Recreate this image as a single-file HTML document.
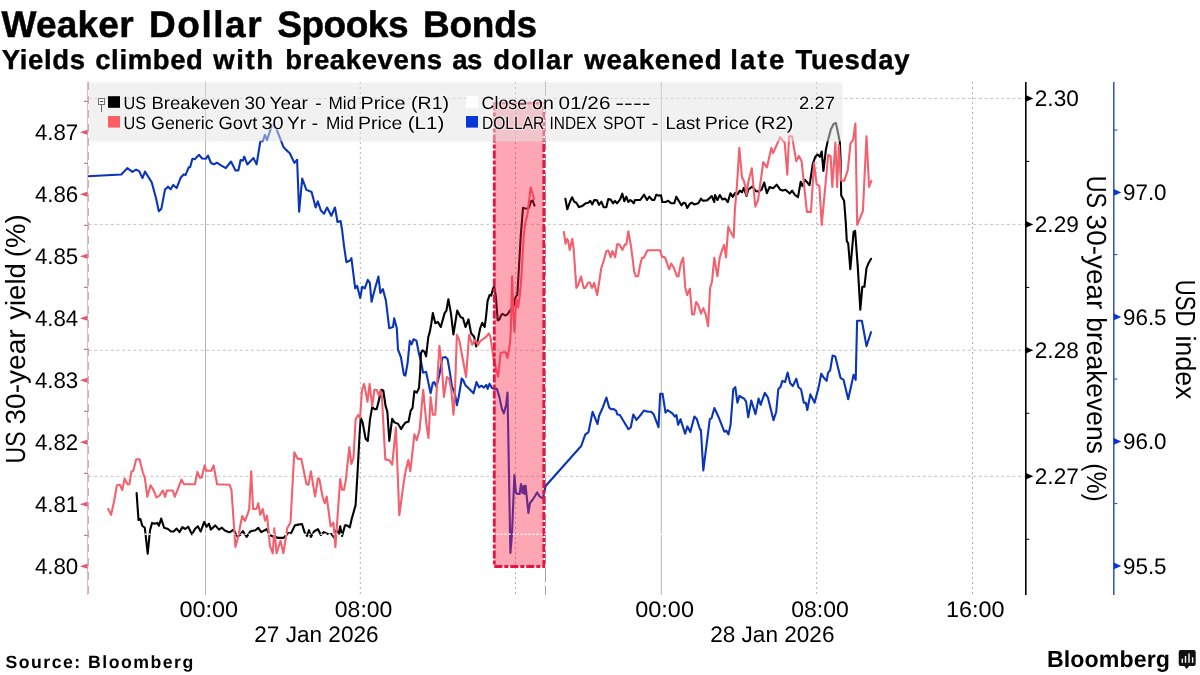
<!DOCTYPE html>
<html><head><meta charset="utf-8"><title>Weaker Dollar Spooks Bonds</title>
<style>
html,body{margin:0;padding:0;background:#fff;}
body{width:1200px;height:675px;overflow:hidden;}
svg{display:block;font-family:'Liberation Sans', sans-serif;}
svg{will-change:transform;text-rendering:geometricPrecision;}
</style></head><body>
<svg width="1200" height="675" viewBox="0 0 1200 675">
<rect width="1200" height="675" fill="#fff"/>

<line x1="88.5" y1="98.4" x2="1025.8" y2="98.4" stroke="#c4c4c4" stroke-width="1" stroke-dasharray="3,2.6"/>
<line x1="88.5" y1="224.4" x2="1025.8" y2="224.4" stroke="#c4c4c4" stroke-width="1" stroke-dasharray="3,2.6"/>
<line x1="88.5" y1="350.3" x2="1025.8" y2="350.3" stroke="#c4c4c4" stroke-width="1" stroke-dasharray="3,2.6"/>
<line x1="88.5" y1="476.3" x2="1025.8" y2="476.3" stroke="#c4c4c4" stroke-width="1" stroke-dasharray="3,2.6"/>
<line x1="205.5" y1="82" x2="205.5" y2="595" stroke="#b4b4b4" stroke-width="1"/>
<line x1="360.3" y1="82" x2="360.3" y2="595" stroke="#b0b0b0" stroke-width="1" stroke-dasharray="2,3"/>
<line x1="515.5" y1="82" x2="515.5" y2="595" stroke="#b0b0b0" stroke-width="1" stroke-dasharray="2,3"/>
<line x1="545.5" y1="82" x2="545.5" y2="595" stroke="#a0a0a0" stroke-width="1" stroke-dasharray="14,4"/>
<line x1="661.3" y1="82" x2="661.3" y2="595" stroke="#b4b4b4" stroke-width="1"/>
<line x1="816.7" y1="82" x2="816.7" y2="595" stroke="#b0b0b0" stroke-width="1" stroke-dasharray="2,3"/>
<line x1="972.5" y1="82" x2="972.5" y2="595" stroke="#b0b0b0" stroke-width="1" stroke-dasharray="2,3"/>
<g fill="none" stroke-width="2.1" stroke-linejoin="round" stroke-linecap="round">
<polyline points="88.0,176.3 121.3,174.5 127.3,168.1 132.4,171.9 136.1,169.6 139.1,171.1 142.5,178.1 145.0,171.6 151.7,182.2 156.1,198.5 158.8,211.1 161.3,208.9 165.0,189.6 168.0,186.7 170.7,189.3 173.2,184.9 176.6,188.1 180.6,177.8 183.6,174.5 185.5,175.1 188.7,167.4 190.2,167.1 192.4,158.8 194.7,159.3 199.1,154.8 202.1,158.5 205.8,158.8 208.0,155.6 211.0,163.0 213.9,164.4 216.9,162.7 220.6,165.2 225.8,168.1 231.0,161.5 235.4,170.4 238.4,170.4 240.6,160.0 242.8,160.7 244.3,156.7 247.3,164.4 253.5,158.1 256.6,164.4 260.3,141.5 262.8,141.1 264.9,134.9 267.0,140.1 272.2,124.5 276.3,128.7 283.6,147.3 285.6,149.4 289.8,153.2 294.4,162.9 297.1,159.8 299.1,211.7 302.2,178.5 306.4,189.9 311.6,192.0 315.7,207.5 317.8,201.3 320.9,210.6 324.0,213.7 327.1,207.5 331.3,215.8 335.0,207.5 337.5,222.0 340.6,221.0 342.1,230.0 343.9,245.1 346.4,262.2 350.2,260.2 351.4,258.2 355.2,288.4 357.2,285.9 360.2,298.0 362.2,286.7 364.8,288.4 367.8,279.9 369.8,282.9 371.6,301.8 374.8,289.2 378.4,276.6 380.4,293.0 382.9,289.2 385.9,300.5 389.2,328.2 393.0,327.0 394.2,318.2 396.8,328.2 398.0,349.6 400.9,357.0 403.9,374.8 405.4,375.6 407.6,363.0 409.8,340.7 411.6,344.4 413.5,339.3 416.5,340.7 418.7,352.6 420.9,360.7 423.1,372.6 426.1,371.9 430.6,393.3 432.8,383.0 434.3,382.2 436.5,386.7 439.4,374.8 442.4,357.8 445.4,357.0 447.6,359.3 449.8,371.9 452.0,386.7 455.0,394.1 456.9,405.2 458.7,397.0 461.7,378.5 463.1,380.0 465.4,385.2 468.3,388.1 471.3,391.1 473.5,393.3 476.5,382.1 479.0,387.3 481.4,385.7 483.9,387.6 486.3,384.9 487.6,388.9 489.6,383.7 492.0,388.1 494.5,388.9 496.9,388.9 499.4,397.1 501.8,408.5 503.8,413.4 506.2,404.4 507.5,392.5 510.4,553.0 512.0,534.0 514.4,475.0 516.0,493.0 518.0,494.0 519.6,494.0 521.0,484.0 522.4,493.0 523.6,486.0 524.4,494.0 525.6,485.6 528.4,513.0 530.0,503.0 532.4,500.0 535.0,496.0 537.0,492.4 540.0,497.0 543.0,498.0 545.6,486.0 581.2,446.0 585.2,434.6 588.5,432.1 592.6,411.8 597.5,424.0 599.1,415.8 602.7,407.7 606.4,397.6 609.2,407.7 611.3,409.3 613.7,409.0 616.2,410.9 617.3,414.5 619.9,415.0 628.4,429.2 630.8,427.2 633.3,414.5 636.5,419.9 640.6,415.0 643.9,410.6 648.0,411.8 651.2,411.8 653.6,414.2 658.5,427.2 660.2,393.8 662.6,393.8 665.5,412.6 667.5,410.1 672.4,413.4 674.8,416.6 676.4,415.0 678.1,424.8 680.5,419.1 685.1,433.7 687.4,426.4 690.3,432.1 694.4,416.6 696.8,419.1 700.1,429.7 700.9,429.7 703.3,470.4 709.8,419.1 711.5,418.3 714.4,408.0 719.1,418.3 724.3,431.7 726.4,430.7 728.5,434.4 730.6,424.5 733.3,389.2 735.3,387.1 737.4,402.7 739.5,395.9 742.0,397.5 744.0,398.5 746.1,401.7 748.2,417.2 751.3,400.6 755.5,414.1 758.6,398.5 760.6,404.8 764.8,392.9 767.9,397.5 773.5,420.3 776.2,412.0 778.3,389.2 780.4,387.1 782.4,380.9 785.1,382.0 787.6,372.6 790.1,383.0 792.8,386.1 796.3,378.8 798.4,387.1 801.1,389.6 803.8,402.7 805.9,402.7 807.3,410.0 810.4,394.4 814.6,402.7 818.7,387.1 821.2,373.7 823.9,377.8 826.6,380.9 828.1,372.6 830.1,370.5 832.6,355.6 835.3,356.4 840.5,377.8 843.6,379.9 848.2,399.2 853.6,374.7 855.7,379.9 857.1,320.7 861.9,320.7 866.5,346.1 871.0,332.2" stroke="#0a35b8"/>
<polyline points="136.6,493.0 138.5,520.0 140.4,519.0 142.3,525.7 144.8,527.7 147.7,553.7 150.0,530.6 152.0,522.9 154.5,523.8 157.4,522.9 158.9,525.7 161.2,518.6 164.1,527.7 168.0,529.0 170.9,531.5 173.7,531.5 176.6,528.6 179.5,532.1 182.4,527.1 185.3,529.0 188.2,526.7 192.0,534.4 194.9,529.0 197.8,526.3 200.7,531.5 204.2,521.9 206.5,526.7 209.0,523.8 210.9,529.6 215.2,525.4 219.0,529.6 221.9,527.7 224.8,530.6 229.6,532.5 233.5,529.6 237.3,536.3 240.0,535.0 242.9,531.2 246.7,536.9 250.6,531.2 255.4,530.2 258.3,527.9 261.2,532.1 266.6,529.2 269.9,535.0 273.7,536.9 278.5,537.9 283.4,537.9 288.2,533.1 291.1,533.1 294.9,525.4 299.7,524.4 302.0,524.0 304.5,532.1 307.1,536.0 309.0,530.2 310.9,536.9 314.2,531.2 318.0,529.2 320.9,535.0 323.8,532.1 327.7,534.0 331.5,534.0 334.4,537.9 336.3,530.2 338.7,534.0 340.2,526.3 342.1,536.0 345.0,525.4 346.9,525.4 349.8,527.3 351.8,518.6 355.6,505.1 357.4,475.0 359.6,434.3 360.7,418.0 362.6,422.4 365.6,438.7 367.8,440.9 370.0,419.4 372.2,406.9 374.4,409.1 376.7,409.1 378.9,400.2 381.1,389.8 383.3,390.6 385.6,406.1 387.3,411.3 389.3,440.9 392.2,418.7 394.4,422.4 398.1,423.9 401.1,429.1 403.3,425.4 405.6,422.4 408.5,421.7 410.7,410.6 412.5,408.2 414.4,391.0 416.8,392.6 419.0,388.0 420.2,371.9 420.9,353.3 422.4,350.4 424.6,351.9 426.1,356.3 428.3,337.0 429.8,331.9 431.3,323.7 432.8,313.1 435.3,323.2 437.8,321.9 440.8,327.0 444.6,313.1 446.4,310.6 448.4,299.3 450.9,313.1 453.4,334.5 457.2,310.6 460.5,316.9 463.0,318.2 465.5,327.0 468.5,319.4 471.1,333.3 474.1,336.7 476.2,346.5 478.2,338.3 480.1,328.5 482.2,322.8 484.7,326.9 486.0,317.1 487.6,300.8 489.6,295.1 491.2,295.6 492.8,289.4 494.1,286.1 495.8,295.9 497.7,320.4 499.4,319.5 501.0,315.5 502.6,313.8 505.1,315.5 507.2,314.6 510.0,310.6 513.2,307.3 515.7,296.7 517.3,295.1 518.9,268.2 520.7,236.7 523.0,207.8 524.4,208.2 527.4,208.8 528.9,207.8 531.1,201.1 532.6,200.4 534.5,205.6" stroke="#000"/>
<polyline points="565.4,198.7 567.3,209.3 569.9,202.0 572.1,197.3 574.3,201.7 576.3,202.7 579.0,207.1 581.7,206.3 585.7,203.3 588.3,202.7 590.3,200.9 592.3,204.4 594.3,200.0 597.0,200.4 599.0,204.9 601.4,201.7 603.7,207.3 606.3,207.3 608.3,199.1 610.7,199.6 613.0,203.3 615.0,200.9 617.0,203.3 620.1,199.3 622.3,193.7 624.3,201.3 626.3,196.7 628.3,202.0 630.3,200.0 632.1,201.3 633.7,203.3 635.0,200.0 640.3,200.0 644.1,194.7 647.0,200.0 649.4,196.7 652.3,200.0 654.3,200.0 656.3,194.7 658.3,195.6 661.0,195.3 662.3,202.0 665.7,202.0 668.1,200.7 671.0,203.1 674.3,203.3 676.3,196.7 679.0,201.3 681.4,205.3 683.7,202.7 685.4,203.3 687.3,208.0 689.7,204.0 691.7,202.7 694.3,204.4 698.3,203.3 701.0,198.7 703.0,200.7 707.0,200.4 709.7,198.0 711.7,196.0 714.3,202.0 715.0,195.0 717.5,200.0 719.8,195.0 722.4,199.5 725.1,198.6 727.8,202.1 730.4,193.2 732.8,196.8 735.2,192.9 737.6,194.1 739.9,190.6 742.0,192.3 743.8,187.9 746.5,195.9 748.2,189.7 752.3,186.5 755.9,191.1 758.9,191.5 761.6,189.7 764.2,182.6 766.9,193.2 769.6,187.0 773.1,188.3 776.7,184.7 780.2,189.7 782.9,190.6 785.6,189.7 789.7,193.6 792.1,190.6 795.0,195.0 798.0,197.1 800.7,181.7 802.5,186.1 805.1,179.9 809.6,185.2 812.8,163.9 815.3,156.8 817.6,154.5 819.9,156.8 821.7,151.5 823.4,171.0 825.9,149.7 827.4,142.6 830.9,129.2 833.6,123.9 835.9,123.0 838.0,132.8 839.8,141.7 840.6,160.0 841.2,195.6 844.1,200.7 845.7,221.5 846.8,241.2 848.2,243.3 850.3,269.2 853.6,231.9 855.1,230.8 857.8,267.1 860.3,309.7 862.3,286.8 864.4,286.8 866.5,268.2 868.6,263.0 871.1,258.8" stroke="#000"/>
<polyline points="108.2,509.0 111.1,514.8 114.0,501.7 116.9,485.3 119.8,484.7 122.3,490.1 124.6,478.5 127.5,484.3 129.4,484.3 131.4,471.8 133.3,470.8 136.2,459.3 139.6,459.3 142.9,472.8 144.8,477.6 147.3,496.8 150.6,485.3 153.5,490.1 156.4,497.4 159.3,495.9 162.8,490.5 165.1,496.8 167.0,490.5 172.8,490.5 174.7,496.8 178.6,487.2 181.4,479.5 184.0,484.3 194.9,484.3 197.4,471.8 199.8,477.6 201.7,477.6 204.6,465.4 206.5,470.8 211.3,470.8 213.6,465.4 217.1,484.3 229.6,484.7 231.5,490.1 235.4,546.9 238.3,536.3 242.1,516.1 245.0,520.9 247.9,513.2 249.2,509.0 251.2,471.4 253.1,509.0 256.4,509.0 258.3,503.2 260.2,514.8 262.7,509.0 265.0,520.6 267.0,515.7 268.5,530.2 269.9,545.6 272.8,553.3 274.3,528.3 276.6,553.3 280.5,540.8 283.4,553.3 287.2,528.3 290.5,522.5 294.3,452.2 297.8,458.9 301.3,458.9 306.5,484.0 308.4,484.9 310.9,471.4 315.1,496.5 318.0,478.2 319.4,479.1 322.5,496.5 324.8,503.2 326.7,496.5 330.6,526.3 333.4,522.5 335.4,547.1 340.2,479.1 342.1,489.7 344.0,489.7 345.8,480.3 349.3,447.1 351.4,464.0 353.5,458.0 355.6,419.4 358.1,415.0 360.1,418.0 361.9,390.6 364.1,383.9 367.5,401.7 369.6,383.9 372.2,406.1 374.4,389.8 376.7,389.8 378.9,395.7 380.4,390.6 381.9,396.5 383.3,422.4 385.3,459.4 389.3,460.2 392.2,464.6 395.9,427.6 399.3,515.3 403.7,482.7 405.7,470.7 408.3,460.0 410.3,471.3 414.4,434.3 416.7,440.2 419.6,429.8 423.2,389.7 426.5,425.0 428.5,438.0 430.6,397.0 432.8,414.8 435.3,414.8 437.2,382.2 439.4,345.9 441.7,364.4 443.9,397.0 446.9,377.0 449.1,378.5 451.3,389.6 453.5,414.8 455.0,389.6 456.9,334.8 459.4,340.7 462.4,357.0 466.1,377.0 469.1,334.8 472.2,344.8 474.9,339.9 478.2,344.8 480.6,340.8 483.1,339.1 486.3,336.7 488.8,333.4 490.4,336.7 492.0,348.1 493.7,359.5 496.1,368.5 498.1,376.7 499.4,364.5 500.7,353.0 503.4,352.2 505.6,352.2 507.5,357.9 510.0,343.3 510.8,330.1 512.1,276.3 513.2,308.9 514.4,331.8 515.7,308.9 516.5,299.2 518.1,307.3 519.8,295.9 521.4,276.3 523.7,236.7 525.2,223.3 527.4,214.4 529.6,196.7 530.7,187.5 532.6,193.7 534.1,198.9" stroke="#f3616f"/>
<polyline points="563.9,232.0 565.5,243.7 567.0,239.0 568.1,240.6 569.7,249.9 572.3,238.7 573.6,248.3 576.4,288.0 578.2,284.9 581.0,276.6 583.7,288.0 585.2,288.0 588.3,282.5 589.9,282.5 591.9,288.0 594.1,282.9 597.2,295.0 601.2,268.5 603.9,260.0 606.5,250.7 608.5,250.7 610.6,257.3 612.4,251.1 615.2,257.3 617.1,244.4 619.4,244.4 622.5,249.9 624.9,244.4 626.4,244.4 628.3,231.2 631.1,246.8 634.2,271.7 635.8,276.3 638.1,276.3 640.4,263.9 642.0,257.7 643.8,257.7 647.4,250.2 659.9,250.2 662.2,256.9 665.0,257.3 669.2,269.3 671.2,263.6 673.9,267.8 677.0,276.3 678.5,276.3 680.9,263.1 683.2,257.7 685.2,287.2 687.1,295.0 689.9,288.8 692.1,314.4 694.1,314.4 696.1,302.0 698.0,304.3 701.1,313.6 703.4,308.2 705.7,314.4 708.1,326.1 710.1,288.0 712.0,281.8 714.3,257.7 717.4,276.3 719.7,257.7 722.1,249.9 724.1,244.9 726.0,257.3 728.3,226.6 729.9,230.4 733.7,237.4 734.9,209.2 736.7,189.7 739.3,147.9 742.0,177.2 743.8,180.8 745.2,186.1 746.5,195.0 748.2,182.6 751.8,168.3 755.3,206.6 758.0,200.3 763.3,162.1 766.9,167.5 771.3,147.9 773.1,153.2 775.8,147.0 780.2,137.2 782.9,140.8 784.7,142.6 787.3,174.6 789.1,136.3 792.1,136.3 796.2,161.2 798.9,155.9 801.6,161.2 804.2,186.1 806.9,211.9 811.0,211.9 814.0,163.0 816.7,184.3 819.4,186.1 821.7,224.9 828.2,155.0 830.6,155.9 832.3,187.0 835.4,142.6 837.1,187.0 838.9,145.2 841.2,180.8 844.2,180.8 847.8,170.1 850.5,143.4 853.1,139.9 855.4,123.5 857.2,224.9 862.9,211.0 866.5,136.3 869.1,187.0 871.4,180.8" stroke="#f3616f"/>
</g>
<rect x="494.3" y="102.5" width="49.5" height="464" fill="#ff1a40" fill-opacity="0.39"/>
<path d="M494.3,102.5 V566.5 H543.8 V102.5" fill="none" stroke="#e8143c" stroke-width="2.8" stroke-dasharray="8,2,4,2"/>
<line x1="494.3" y1="103" x2="543.8" y2="103" stroke="#e8143c" stroke-width="2.5" stroke-opacity="0.8"/>
<line x1="88.5" y1="534.2" x2="1025.8" y2="534.2" stroke="#fff" stroke-width="1.5" stroke-dasharray="2,2"/>
<rect x="88.5" y="82.5" width="754" height="59" rx="3" fill="#e3e3e3" fill-opacity="0.5"/>
<rect x="98.5" y="98.5" width="6" height="6" fill="#fff" stroke="#777" stroke-width="1"/>
<line x1="99.8" y1="101.5" x2="103.2" y2="101.5" stroke="#555" stroke-width="1"/>
<line x1="101.5" y1="105" x2="101.5" y2="112" stroke="#666" stroke-width="1"/>
<rect x="108" y="96.2" width="12" height="11.6" fill="#000"/>
<rect x="108" y="116" width="12" height="11.6" fill="#fd5e66"/>
<rect x="466" y="96.2" width="12" height="11.6" fill="#fff"/>
<rect x="466" y="116" width="12" height="11.6" fill="#0636d8"/>
<text x="123.5" y="108.7" font-size="17.9" textLength="22.61" lengthAdjust="spacingAndGlyphs" stroke="#fff" stroke-opacity="0.55" stroke-width="2.2" paint-order="stroke" stroke-linejoin="round">US</text>
<text x="151.5" y="108.7" font-size="17.9" textLength="88.66" lengthAdjust="spacingAndGlyphs" stroke="#fff" stroke-opacity="0.55" stroke-width="2.2" paint-order="stroke" stroke-linejoin="round">Breakeven</text>
<text x="244.5" y="108.7" font-size="17.9" textLength="21.09" lengthAdjust="spacingAndGlyphs" stroke="#fff" stroke-opacity="0.55" stroke-width="2.2" paint-order="stroke" stroke-linejoin="round">30</text>
<text x="269.5" y="108.7" font-size="17.9" textLength="38.29" lengthAdjust="spacingAndGlyphs" stroke="#fff" stroke-opacity="0.55" stroke-width="2.2" paint-order="stroke" stroke-linejoin="round">Year</text>
<text x="315.0" y="108.7" font-size="17.9" textLength="6.71" lengthAdjust="spacingAndGlyphs" stroke="#fff" stroke-opacity="0.55" stroke-width="2.2" paint-order="stroke" stroke-linejoin="round">-</text>
<text x="328.5" y="108.7" font-size="17.9" textLength="27.72" lengthAdjust="spacingAndGlyphs" stroke="#fff" stroke-opacity="0.55" stroke-width="2.2" paint-order="stroke" stroke-linejoin="round">Mid</text>
<text x="360.5" y="108.7" font-size="17.9" textLength="45.12" lengthAdjust="spacingAndGlyphs" stroke="#fff" stroke-opacity="0.55" stroke-width="2.2" paint-order="stroke" stroke-linejoin="round">Price</text>
<text x="411.0" y="108.7" font-size="17.9" textLength="38.07" lengthAdjust="spacingAndGlyphs" stroke="#fff" stroke-opacity="0.55" stroke-width="2.2" paint-order="stroke" stroke-linejoin="round">(R1)</text>
<text x="123.5" y="128.7" font-size="17.9" textLength="22.61" lengthAdjust="spacingAndGlyphs" stroke="#fff" stroke-opacity="0.55" stroke-width="2.2" paint-order="stroke" stroke-linejoin="round">US</text>
<text x="151.0" y="128.7" font-size="17.9" textLength="62.66" lengthAdjust="spacingAndGlyphs" stroke="#fff" stroke-opacity="0.55" stroke-width="2.2" paint-order="stroke" stroke-linejoin="round">Generic</text>
<text x="218.5" y="128.7" font-size="17.9" textLength="38.85" lengthAdjust="spacingAndGlyphs" stroke="#fff" stroke-opacity="0.55" stroke-width="2.2" paint-order="stroke" stroke-linejoin="round">Govt</text>
<text x="261.5" y="128.7" font-size="17.9" textLength="22.25" lengthAdjust="spacingAndGlyphs" stroke="#fff" stroke-opacity="0.55" stroke-width="2.2" paint-order="stroke" stroke-linejoin="round">30</text>
<text x="287.0" y="128.7" font-size="17.9" textLength="19.03" lengthAdjust="spacingAndGlyphs" stroke="#fff" stroke-opacity="0.55" stroke-width="2.2" paint-order="stroke" stroke-linejoin="round">Yr</text>
<text x="311.5" y="128.7" font-size="17.9" textLength="6.71" lengthAdjust="spacingAndGlyphs" stroke="#fff" stroke-opacity="0.55" stroke-width="2.2" paint-order="stroke" stroke-linejoin="round">-</text>
<text x="326.0" y="128.7" font-size="17.9" textLength="27.72" lengthAdjust="spacingAndGlyphs" stroke="#fff" stroke-opacity="0.55" stroke-width="2.2" paint-order="stroke" stroke-linejoin="round">Mid</text>
<text x="358.0" y="128.7" font-size="17.9" textLength="44.45" lengthAdjust="spacingAndGlyphs" stroke="#fff" stroke-opacity="0.55" stroke-width="2.2" paint-order="stroke" stroke-linejoin="round">Price</text>
<text x="407.8" y="128.7" font-size="17.9" textLength="36.44" lengthAdjust="spacingAndGlyphs" stroke="#fff" stroke-opacity="0.55" stroke-width="2.2" paint-order="stroke" stroke-linejoin="round">(L1)</text>
<text x="481.6" y="108.7" font-size="17.9" textLength="45.54" lengthAdjust="spacingAndGlyphs" stroke="#fff" stroke-opacity="0.55" stroke-width="2.2" paint-order="stroke" stroke-linejoin="round">Close</text>
<text x="532.0" y="108.7" font-size="17.9" textLength="21.79" lengthAdjust="spacingAndGlyphs" stroke="#fff" stroke-opacity="0.55" stroke-width="2.2" paint-order="stroke" stroke-linejoin="round">on</text>
<text x="558.6" y="108.7" font-size="17.9" textLength="51.82" lengthAdjust="spacingAndGlyphs" stroke="#fff" stroke-opacity="0.55" stroke-width="2.2" paint-order="stroke" stroke-linejoin="round">01/26</text>
<text x="615.3" y="108.7" font-size="17.9" textLength="35.27" lengthAdjust="spacingAndGlyphs" stroke="#fff" stroke-opacity="0.55" stroke-width="2.2" paint-order="stroke" stroke-linejoin="round">----</text>
<text x="799.0" y="108.7" font-size="17.9" textLength="35.93" lengthAdjust="spacingAndGlyphs" stroke="#fff" stroke-opacity="0.55" stroke-width="2.2" paint-order="stroke" stroke-linejoin="round">2.27</text>
<text x="482.0" y="128.7" font-size="17.9" textLength="62.27" lengthAdjust="spacingAndGlyphs" stroke="#fff" stroke-opacity="0.55" stroke-width="2.2" paint-order="stroke" stroke-linejoin="round">DOLLAR</text>
<text x="549.5" y="128.7" font-size="17.9" textLength="47.2" lengthAdjust="spacingAndGlyphs" stroke="#fff" stroke-opacity="0.55" stroke-width="2.2" paint-order="stroke" stroke-linejoin="round">INDEX</text>
<text x="603.0" y="128.7" font-size="17.9" textLength="42.36" lengthAdjust="spacingAndGlyphs" stroke="#fff" stroke-opacity="0.55" stroke-width="2.2" paint-order="stroke" stroke-linejoin="round">SPOT</text>
<text x="651.5" y="128.7" font-size="17.9" textLength="7.11" lengthAdjust="spacingAndGlyphs" stroke="#fff" stroke-opacity="0.55" stroke-width="2.2" paint-order="stroke" stroke-linejoin="round">-</text>
<text x="665.5" y="128.7" font-size="17.9" textLength="34.89" lengthAdjust="spacingAndGlyphs" stroke="#fff" stroke-opacity="0.55" stroke-width="2.2" paint-order="stroke" stroke-linejoin="round">Last</text>
<text x="704.8" y="128.7" font-size="17.9" textLength="44.43" lengthAdjust="spacingAndGlyphs" stroke="#fff" stroke-opacity="0.55" stroke-width="2.2" paint-order="stroke" stroke-linejoin="round">Price</text>
<text x="754.4" y="128.7" font-size="17.9" textLength="38.93" lengthAdjust="spacingAndGlyphs" stroke="#fff" stroke-opacity="0.55" stroke-width="2.2" paint-order="stroke" stroke-linejoin="round">(R2)</text>
<text x="1.4" y="36.7" font-size="37" font-weight="bold" letter-spacing="0.24" stroke="#000" stroke-width="0.5">Weaker</text>
<text x="149.0" y="36.7" font-size="37" font-weight="bold" letter-spacing="1.54" stroke="#000" stroke-width="0.5">Dollar</text>
<text x="277.2" y="36.7" font-size="37" font-weight="bold" letter-spacing="-0.46" stroke="#000" stroke-width="0.5">Spooks</text>
<text x="423.1" y="36.7" font-size="37" font-weight="bold" letter-spacing="-0.275" stroke="#000" stroke-width="0.5">Bonds</text>
<text x="1.8" y="68.7" font-size="27.5" font-weight="bold" letter-spacing="0.64" stroke="#000" stroke-width="0.4">Yields</text>
<text x="95.2" y="68.7" font-size="27.5" font-weight="bold" letter-spacing="0.633" stroke="#000" stroke-width="0.4">climbed</text>
<text x="213.2" y="68.7" font-size="27.5" font-weight="bold" letter-spacing="1.6" stroke="#000" stroke-width="0.4">with</text>
<text x="285.2" y="68.7" font-size="27.5" font-weight="bold" letter-spacing="0.622" stroke="#000" stroke-width="0.4">breakevens</text>
<text x="452.2" y="68.7" font-size="27.5" font-weight="bold" letter-spacing="-0.4" stroke="#000" stroke-width="0.4">as</text>
<text x="493.2" y="68.7" font-size="27.5" font-weight="bold" letter-spacing="0.96" stroke="#000" stroke-width="0.4">dollar</text>
<text x="584.2" y="68.7" font-size="27.5" font-weight="bold" letter-spacing="0.829" stroke="#000" stroke-width="0.4">weakened</text>
<text x="730.2" y="68.7" font-size="27.5" font-weight="bold" letter-spacing="2.2" stroke="#000" stroke-width="0.4">late</text>
<text x="795.4" y="68.7" font-size="27.5" font-weight="bold" letter-spacing="0.767" stroke="#000" stroke-width="0.4">Tuesday</text>
<line x1="87.5" y1="82" x2="87.5" y2="595" stroke="#f3b3bc" stroke-width="1"/>
<line x1="88.5" y1="82" x2="88.5" y2="595" stroke="#b0b0b0" stroke-width="0.9" stroke-dasharray="8,6"/>
<path d="M87.5,129.8 L79.8,132.3 L87.5,134.8 Z" fill="#e5566a"/>
<path d="M87.5,191.8 L79.8,194.3 L87.5,196.8 Z" fill="#e5566a"/>
<path d="M87.5,253.8 L79.8,256.3 L87.5,258.8 Z" fill="#e5566a"/>
<path d="M87.5,315.8 L79.8,318.3 L87.5,320.8 Z" fill="#e5566a"/>
<path d="M87.5,377.8 L79.8,380.3 L87.5,382.8 Z" fill="#e5566a"/>
<path d="M87.5,439.7 L79.8,442.2 L87.5,444.7 Z" fill="#e5566a"/>
<path d="M87.5,501.7 L79.8,504.2 L87.5,506.7 Z" fill="#e5566a"/>
<path d="M87.5,563.7 L79.8,566.2 L87.5,568.7 Z" fill="#e5566a"/>
<line x1="84.0" y1="101.30000000000001" x2="87.5" y2="101.30000000000001" stroke="#a84858" stroke-width="0.9"/>
<line x1="84.0" y1="163.3" x2="87.5" y2="163.3" stroke="#a84858" stroke-width="0.9"/>
<line x1="84.0" y1="225.3" x2="87.5" y2="225.3" stroke="#a84858" stroke-width="0.9"/>
<line x1="84.0" y1="287.3" x2="87.5" y2="287.3" stroke="#a84858" stroke-width="0.9"/>
<line x1="84.0" y1="349.3" x2="87.5" y2="349.3" stroke="#a84858" stroke-width="0.9"/>
<line x1="84.0" y1="411.3" x2="87.5" y2="411.3" stroke="#a84858" stroke-width="0.9"/>
<line x1="84.0" y1="473.3" x2="87.5" y2="473.3" stroke="#a84858" stroke-width="0.9"/>
<line x1="84.0" y1="535.3" x2="87.5" y2="535.3" stroke="#a84858" stroke-width="0.9"/>
<line x1="1025.8" y1="82" x2="1025.8" y2="595" stroke="#000" stroke-width="1.6"/>
<path d="M1025.8,95.10000000000001 L1033.3,98.4 L1025.8,101.7 Z" fill="#000"/>
<path d="M1025.8,221.1 L1033.3,224.4 L1025.8,227.70000000000002 Z" fill="#000"/>
<path d="M1025.8,347.0 L1033.3,350.3 L1025.8,353.6 Z" fill="#000"/>
<path d="M1025.8,473.0 L1033.3,476.3 L1025.8,479.6 Z" fill="#000"/>
<line x1="1025.8" y1="161.4" x2="1029.3" y2="161.4" stroke="#000" stroke-width="1"/>
<line x1="1025.8" y1="287.4" x2="1029.3" y2="287.4" stroke="#000" stroke-width="1"/>
<line x1="1025.8" y1="413.3" x2="1029.3" y2="413.3" stroke="#000" stroke-width="1"/>
<line x1="1025.8" y1="539.3" x2="1029.3" y2="539.3" stroke="#000" stroke-width="1"/>
<line x1="1113.8" y1="82" x2="1113.8" y2="595" stroke="#2146b4" stroke-width="1.4"/>
<path d="M1113.8,189.1 L1121.3,192.4 L1113.8,195.70000000000002 Z" fill="#0636d8"/>
<path d="M1113.8,313.59999999999997 L1121.3,316.9 L1113.8,320.2 Z" fill="#0636d8"/>
<path d="M1113.8,438.09999999999997 L1121.3,441.4 L1113.8,444.7 Z" fill="#0636d8"/>
<path d="M1113.8,562.6 L1121.3,565.9 L1113.8,569.1999999999999 Z" fill="#0636d8"/>
<line x1="1113.8" y1="130.1" x2="1117.3" y2="130.1" stroke="#2146b4" stroke-width="1"/>
<line x1="1113.8" y1="254.6" x2="1117.3" y2="254.6" stroke="#2146b4" stroke-width="1"/>
<line x1="1113.8" y1="379.1" x2="1117.3" y2="379.1" stroke="#2146b4" stroke-width="1"/>
<line x1="1113.8" y1="503.6" x2="1117.3" y2="503.6" stroke="#2146b4" stroke-width="1"/>
<text transform="translate(24.6,470) rotate(-90)" x="6.6" y="0" font-size="27.7" textLength="31.91" lengthAdjust="spacingAndGlyphs">US</text>
<text transform="translate(24.6,470) rotate(-90)" x="45.5" y="0" font-size="27.7" textLength="95.12" lengthAdjust="spacingAndGlyphs">30-year</text>
<text transform="translate(24.6,470) rotate(-90)" x="150.2" y="0" font-size="27.7" textLength="56.74" lengthAdjust="spacingAndGlyphs">yield</text>
<text transform="translate(24.6,470) rotate(-90)" x="212.7" y="0" font-size="27.7" textLength="43.06" lengthAdjust="spacingAndGlyphs">(%)</text>
<text transform="translate(1087.3,170) rotate(90)" x="5.7" y="0" font-size="27.7" textLength="32.39" lengthAdjust="spacingAndGlyphs">US</text>
<text transform="translate(1087.3,170) rotate(90)" x="44.6" y="0" font-size="27.7" textLength="94.71" lengthAdjust="spacingAndGlyphs">30-year</text>
<text transform="translate(1087.3,170) rotate(90)" x="147.3" y="0" font-size="27.7" textLength="136.57" lengthAdjust="spacingAndGlyphs">breakevens</text>
<text transform="translate(1087.3,170) rotate(90)" x="293.3" y="0" font-size="27.7" textLength="38.53" lengthAdjust="spacingAndGlyphs">(%)</text>
<text transform="translate(1175.8,275) rotate(90)" x="4.7" y="0" font-size="27.7" textLength="46.78" lengthAdjust="spacingAndGlyphs">USD</text>
<text transform="translate(1175.8,275) rotate(90)" x="60.6" y="0" font-size="27.7" textLength="63.85" lengthAdjust="spacingAndGlyphs">index</text>
<text x="34.90" y="140.00" font-size="22.5" textLength="43.38" lengthAdjust="spacingAndGlyphs">4.87</text>
<text x="34.90" y="202.00" font-size="22.5" textLength="43.38" lengthAdjust="spacingAndGlyphs">4.86</text>
<text x="34.90" y="264.00" font-size="22.5" textLength="43.38" lengthAdjust="spacingAndGlyphs">4.85</text>
<text x="34.90" y="326.00" font-size="22.5" textLength="43.38" lengthAdjust="spacingAndGlyphs">4.84</text>
<text x="34.90" y="388.00" font-size="22.5" textLength="43.38" lengthAdjust="spacingAndGlyphs">4.83</text>
<text x="34.90" y="449.90" font-size="22.5" textLength="43.38" lengthAdjust="spacingAndGlyphs">4.82</text>
<text x="34.90" y="511.90" font-size="22.5" textLength="43.38" lengthAdjust="spacingAndGlyphs">4.81</text>
<text x="34.90" y="573.90" font-size="22.5" textLength="43.38" lengthAdjust="spacingAndGlyphs">4.80</text>
<text x="1034.80" y="106.10" font-size="22.5" textLength="44.01" lengthAdjust="spacingAndGlyphs">2.30</text>
<text x="1034.80" y="232.10" font-size="22.5" textLength="44.01" lengthAdjust="spacingAndGlyphs">2.29</text>
<text x="1034.80" y="358.00" font-size="22.5" textLength="44.01" lengthAdjust="spacingAndGlyphs">2.28</text>
<text x="1034.80" y="484.00" font-size="22.5" textLength="44.01" lengthAdjust="spacingAndGlyphs">2.27</text>
<text x="1123.00" y="200.10" font-size="22.5" textLength="43.58" lengthAdjust="spacingAndGlyphs">97.0</text>
<text x="1123.00" y="324.60" font-size="22.5" textLength="43.58" lengthAdjust="spacingAndGlyphs">96.5</text>
<text x="1123.00" y="449.10" font-size="22.5" textLength="43.58" lengthAdjust="spacingAndGlyphs">96.0</text>
<text x="1123.00" y="573.60" font-size="22.5" textLength="43.58" lengthAdjust="spacingAndGlyphs">95.5</text>
<text x="179.50" y="616.80" font-size="22.5" textLength="58.65" lengthAdjust="spacingAndGlyphs">00:00</text>
<text x="334.80" y="616.80" font-size="22.5" textLength="57.59" lengthAdjust="spacingAndGlyphs">08:00</text>
<text x="635.30" y="616.80" font-size="22.5" textLength="58.65" lengthAdjust="spacingAndGlyphs">00:00</text>
<text x="791.20" y="616.80" font-size="22.5" textLength="57.59" lengthAdjust="spacingAndGlyphs">08:00</text>
<text x="946.00" y="616.80" font-size="22.5" textLength="58.5" lengthAdjust="spacingAndGlyphs">16:00</text>
<text x="254.30" y="642.10" font-size="22.5" textLength="124.29" lengthAdjust="spacingAndGlyphs">27 Jan 2026</text>
<text x="710.20" y="642.10" font-size="22.5" textLength="124.29" lengthAdjust="spacingAndGlyphs">28 Jan 2026</text>
<text x="5.5" y="667.5" font-size="17.7" text-anchor="start" font-weight="bold" textLength="187.7" lengthAdjust="spacing" >Source: Bloomberg</text>
<text x="1047" y="667.2" font-size="23.2" text-anchor="start" font-weight="bold" textLength="123" lengthAdjust="spacing" >Bloomberg</text>
<path d="M1180.7,650 h13 a2,2 0 0 1 2,2 v12 a2,2 0 0 1 -2,2 h-4.5 l-2.5,3 l-2.5,-3 h-3.5 a2,2 0 0 1 -2,-2 v-12 a2,2 0 0 1 2,-2 z" fill="#111"/>
<rect x="1181.6" y="658.7" width="1.4" height="4.099999999999909" fill="#fff"/>
<rect x="1184.8" y="656" width="1.4" height="6.7999999999999545" fill="#fff"/>
<rect x="1188.3" y="653.5" width="1.4" height="9.299999999999955" fill="#fff"/>
<rect x="1191.9" y="657.3" width="1.4" height="5.5" fill="#fff"/>
</svg></body></html>
